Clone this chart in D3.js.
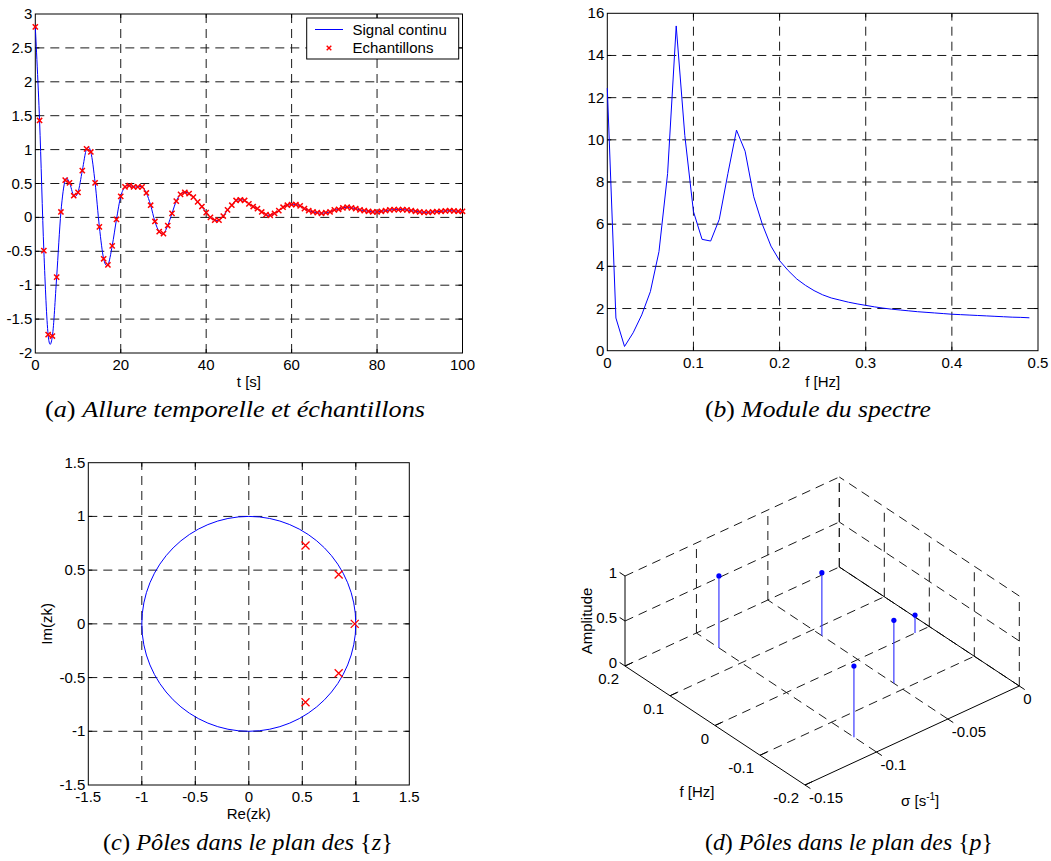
<!DOCTYPE html>
<html><head><meta charset="utf-8">
<script src="https://cdn.jsdelivr.net/npm/d3@7"></script>
<style>
body{margin:0;background:#fff}
svg text{font-family:"Liberation Sans",Arial,sans-serif;fill:#000}
.grid{stroke:#1a1a1a;stroke-width:1;stroke-dasharray:9 6;fill:none}
.axis{stroke:#000;stroke-width:1;fill:none}
svg text.cap{font-family:"Liberation Serif","Times New Roman",serif;font-size:23px}
</style>
</head><body>
<svg id="fig" width="1051" height="861"></svg>
<script>
// ---------- DATA ----------
// (a) sampled signal, t = 0..100 s (Ts = 1 s)
const sampleTimes = d3.range(0, 101);
const signalSamples = [
 2.81, 1.43, -0.49, -1.73, -1.75, -0.88, 0.08, 0.55, 0.51, 0.32,
 0.37, 0.69, 1.01, 0.965, 0.51, -0.14, -0.61, -0.70, -0.42, -0.03,
 0.31, 0.45, 0.47, 0.45, 0.45, 0.45, 0.36, 0.18, -0.06, -0.21,
 -0.24, -0.12, 0.06, 0.24, 0.34, 0.37, 0.35, 0.30, 0.23, 0.16,
 0.07, 0.00, -0.04, -0.04, 0.02, 0.11, 0.18, 0.25, 0.26, 0.25,
 0.20, 0.16, 0.13, 0.08, 0.04, 0.03, 0.06, 0.10, 0.15, 0.18,
 0.19, 0.19, 0.17, 0.13, 0.10, 0.08, 0.07, 0.06, 0.07, 0.08,
 0.11, 0.12, 0.14, 0.15, 0.14, 0.13, 0.11, 0.10, 0.09, 0.08,
 0.08, 0.09, 0.10, 0.11, 0.115, 0.115, 0.115, 0.11, 0.10, 0.09,
 0.08, 0.075, 0.075, 0.08, 0.085, 0.09, 0.095, 0.10, 0.095, 0.09, 0.09
];
const aXTicks = [0, 20, 40, 60, 80, 100];
const aYTicks = [-2, -1.5, -1, -0.5, 0, 0.5, 1, 1.5, 2, 2.5, 3];

// (b) spectrum module, f = 0 .. 0.49 Hz
const specFreq = d3.range(0, 50).map(i => i / 100);
const specModule = [
 12.45, 1.55, 0.2, 0.85, 1.7, 2.8, 4.7, 8.4, 15.4, 10.2,
 6.6, 5.28, 5.2, 6.23, 8.4, 10.46, 9.46, 7.3, 5.99, 4.96,
 4.27, 3.8, 3.4, 3.1, 2.85, 2.65, 2.5, 2.4, 2.3, 2.22,
 2.15, 2.08, 2.02, 1.97, 1.93, 1.89, 1.85, 1.82, 1.79, 1.76,
 1.73, 1.71, 1.69, 1.67, 1.65, 1.63, 1.61, 1.59, 1.58, 1.56
];
const bXTicks = [0, 0.1, 0.2, 0.3, 0.4, 0.5];
const bYTicks = [0, 2, 4, 6, 8, 10, 12, 14, 16];

// (c) poles in z-plane
const zPoleRe = [0.53, 0.84, 0.99, 0.84, 0.53];
const zPoleIm = [0.73, 0.46, 0.0, -0.46, -0.73];
const cTicks = [-1.5, -1, -0.5, 0, 0.5, 1, 1.5];

// (d) poles in p-plane
const pSigma = [-0.10, -0.05, -0.01, -0.05, -0.10];
const pFreq  = [0.15, 0.08, 0.0, -0.08, -0.15];
const pAmp   = [0.80, 0.70, 0.20, 0.70, 0.79];
const dSigmaTicks = [-0.15, -0.1, -0.05, 0];
const dFreqTicks = [-0.2, -0.1, 0, 0.1, 0.2];
const dAmpTicks = [0, 0.5, 1];

// ---------- DRAW ----------
const svg = d3.select('#fig');
const TICK = 4, FS = 15;

function frame(g, x, y, xt, yt) {
  const [xa, xb] = x.range(), [ya, yb] = y.range(); // ya bottom, yb top
  const xd = x.domain(), yd = y.domain();
  const ix = xt.filter(v => v !== xd[0] && v !== xd[1]);
  const iy = yt.filter(v => v !== yd[0] && v !== yd[1]);
  g.selectAll(null).data(ix).join('line').attr('class', 'grid')
    .attr('x1', d => x(d)).attr('x2', d => x(d)).attr('y1', ya).attr('y2', yb);
  g.selectAll(null).data(iy).join('line').attr('class', 'grid')
    .attr('y1', d => y(d)).attr('y2', d => y(d)).attr('x1', xa).attr('x2', xb);
  g.append('rect').attr('class', 'axis').attr('x', xa).attr('y', yb)
    .attr('width', xb - xa).attr('height', ya - yb);
  g.selectAll(null).data(ix).join('path').attr('class', 'axis')
    .attr('d', d => `M${x(d)},${ya}v${-TICK}M${x(d)},${yb}v${TICK}`);
  g.selectAll(null).data(iy).join('path').attr('class', 'axis')
    .attr('d', d => `M${xa},${y(d)}h${TICK}M${xb},${y(d)}h${-TICK}`);
  g.selectAll(null).data(xt).join('text')
    .attr('x', d => x(d)).attr('y', ya + 17).attr('text-anchor', 'middle')
    .style('font-size', FS + 'px').text(d => String(d));
  g.selectAll(null).data(yt).join('text')
    .attr('x', xa - 3).attr('y', d => y(d) + 5).attr('text-anchor', 'end')
    .style('font-size', FS + 'px').text(d => String(d));
}

function xMark(g, cx, cy, h, color, w) {
  g.append('path').attr('d', `M${cx - h},${cy - h}L${cx + h},${cy + h}M${cx - h},${cy + h}L${cx + h},${cy - h}`)
    .attr('stroke', color).attr('stroke-width', w).attr('fill', 'none');
}

// ---- (a) ----
{
  const g = svg.append('g');
  const x = d3.scaleLinear().domain([0, 100]).range([35.3, 462.5]);
  const y = d3.scaleLinear().domain([-2, 3]).range([353, 14]);
  frame(g, x, y, aXTicks, aYTicks);
  const line = d3.line().x((d, i) => x(sampleTimes[i])).y(d => y(d)).curve(d3.curveCatmullRom.alpha(0));
  g.append('path').attr('d', line(signalSamples)).attr('fill', 'none').attr('stroke', '#0000ff').attr('stroke-width', 1);
  signalSamples.forEach((v, i) => xMark(g, x(sampleTimes[i]), y(v), 2.6, '#ff0000', 1.5));
  g.append('text').attr('x', (x.range()[0] + x.range()[1]) / 2).attr('y', 387).attr('text-anchor', 'middle')
    .style('font-size', FS + 'px').text('t [s]');
  const lg = g.append('g');
  lg.append('rect').attr('x', 306.7).attr('y', 18).attr('width', 152).attr('height', 41)
    .attr('fill', '#fff').attr('stroke', '#000').attr('stroke-width', 1);
  lg.append('line').attr('x1', 315).attr('x2', 343).attr('y1', 29.5).attr('y2', 29.5).attr('stroke', '#0000ff');
  lg.append('text').attr('x', 352.5).attr('y', 35).style('font-size', FS + 'px').text('Signal continu');
  xMark(lg, 329, 48, 2.3, '#ff0000', 1.4);
  lg.append('text').attr('x', 352.5).attr('y', 53).style('font-size', FS + 'px').text('Echantillons');
}

// ---- (b) ----
{
  const g = svg.append('g');
  const x = d3.scaleLinear().domain([0, 0.5]).range([607.3, 1038]);
  const y = d3.scaleLinear().domain([0, 16]).range([350.7, 13.3]);
  frame(g, x, y, bXTicks, bYTicks);
  const line = d3.line().x((d, i) => x(specFreq[i])).y(d => y(d));
  g.append('path').attr('d', line(specModule)).attr('fill', 'none').attr('stroke', '#0000ff').attr('stroke-width', 1);
  g.append('text').attr('x', (x.range()[0] + x.range()[1]) / 2).attr('y', 387).attr('text-anchor', 'middle')
    .style('font-size', FS + 'px').text('f [Hz]');
}

// ---- (c) ----
{
  const g = svg.append('g');
  const x = d3.scaleLinear().domain([-1.5, 1.5]).range([88.3, 409.3]);
  const y = d3.scaleLinear().domain([-1.5, 1.5]).range([785, 462.7]);
  frame(g, x, y, cTicks, cTicks);
  g.append('ellipse').attr('cx', x(0)).attr('cy', y(0))
    .attr('rx', x(1) - x(0)).attr('ry', y(0) - y(1))
    .attr('fill', 'none').attr('stroke', '#0000ff').attr('stroke-width', 1);
  zPoleRe.forEach((re, i) => xMark(g, x(re), y(zPoleIm[i]), 4, '#ff0000', 1.3));
  g.append('text').attr('x', (x.range()[0] + x.range()[1]) / 2).attr('y', 819).attr('text-anchor', 'middle')
    .style('font-size', FS + 'px').text('Re(zk)');
  g.append('text').attr('transform', `translate(52,${y(0)}) rotate(-90)`).attr('text-anchor', 'middle')
    .style('font-size', FS + 'px').text('Im(zk)');
}

// ---- (d) 3-D stem ----
{
  const g = svg.append('g');
  const P0 = [805, 785], VS = [214.3, -99], VF = [-180, -119];
  const s3 = d3.scaleLinear().domain([-0.15, 0]).range([0, 1]);
  const f3 = d3.scaleLinear().domain([-0.2, 0.2]).range([0, 1]);
  const z3 = d3.scaleLinear().domain([0, 1]).range([0, 90]);
  const proj = (s, f, z) => {
    const a = s3(s), b = f3(f);
    return [P0[0] + a * VS[0] + b * VF[0], P0[1] + a * VS[1] + b * VF[1] - z3(z)];
  };
  const seg = (p, q) => `M${p[0]},${p[1]}L${q[0]},${q[1]}`;
  const sMin = -0.15, sMax = 0, fMin = -0.2, fMax = 0.2;
  const grid = [];
  dSigmaTicks.filter(s => s !== sMin).forEach(s => grid.push(seg(proj(s, fMin, 0), proj(s, fMax, 0))));
  dFreqTicks.filter(f => f !== fMin).forEach(f => grid.push(seg(proj(sMin, f, 0), proj(sMax, f, 0))));
  dSigmaTicks.filter(s => s !== sMin).forEach(s => grid.push(seg(proj(s, fMax, 0), proj(s, fMax, 1))));
  dAmpTicks.filter(z => z !== 0).forEach(z => grid.push(seg(proj(sMin, fMax, z), proj(sMax, fMax, z))));
  dFreqTicks.forEach(f => grid.push(seg(proj(sMax, f, 0), proj(sMax, f, 1))));
  dAmpTicks.filter(z => z !== 0).forEach(z => grid.push(seg(proj(sMax, fMin, z), proj(sMax, fMax, z))));
  g.selectAll(null).data(grid).join('path').attr('class', 'grid').attr('d', d => d);
  const ax = [
    seg(proj(sMin, fMax, 0), proj(sMin, fMin, 0)),
    seg(proj(sMin, fMin, 0), proj(sMax, fMin, 0)),
    seg(proj(sMax, fMin, 0), proj(sMax, fMax, 0)),
    seg(proj(sMin, fMax, 0), proj(sMin, fMax, 1))
  ];
  g.selectAll(null).data(ax).join('path').attr('class', 'axis').attr('d', d => d);
  const tk = [];
  dFreqTicks.forEach(f => tk.push(seg(proj(sMin, f, 0), proj(sMin + 0.005, f, 0))));
  dSigmaTicks.forEach(s => tk.push(seg(proj(s, fMin, 0), proj(s, fMin - 0.012, 0))));
  dAmpTicks.forEach(z => tk.push(seg(proj(sMin, fMax, z), proj(sMin, fMax + 0.012, z))));
  g.selectAll(null).data(tk).join('path').attr('class', 'axis').attr('d', d => d);
  dFreqTicks.forEach(f => {
    const p = proj(sMin, f, 0);
    g.append('text').attr('x', p[0] - 6).attr('y', p[1] + 18).attr('text-anchor', 'end')
      .style('font-size', FS + 'px').text(String(f));
  });
  dSigmaTicks.forEach(s => {
    const p = proj(s, fMin, 0);
    g.append('text').attr('x', p[0] + 4).attr('y', p[1] + 18).attr('text-anchor', 'start')
      .style('font-size', FS + 'px').text(String(s));
  });
  dAmpTicks.forEach(z => {
    const p = proj(sMin, fMax, z);
    g.append('text').attr('x', p[0] - 8).attr('y', p[1] + 2).attr('text-anchor', 'end')
      .style('font-size', FS + 'px').text(String(z));
  });
  const fm = proj(sMin, 0, 0);
  g.append('text').attr('x', fm[0] - 18).attr('y', fm[1] + 71).attr('text-anchor', 'middle')
    .style('font-size', FS + 'px').text('f [Hz]');
  const sm = proj(-0.075, fMin, 0);
  const st = g.append('text').attr('x', sm[0] + 8).attr('y', sm[1] + 70).attr('text-anchor', 'middle')
    .style('font-size', FS + 'px');
  st.append('tspan').text('σ [s');
  st.append('tspan').attr('dy', -6).style('font-size', '10px').text('-1');
  st.append('tspan').attr('dy', 6).text(']');
  const zm = proj(sMin, fMax, 0.5);
  g.append('text').attr('transform', `translate(${zm[0] - 33},${zm[1]}) rotate(-90)`).attr('text-anchor', 'middle')
    .style('font-size', FS + 'px').text('Amplitude');
  pSigma.forEach((s, i) => {
    const b = proj(s, pFreq[i], 0), t = proj(s, pFreq[i], pAmp[i]);
    g.append('path').attr('d', seg(b, t)).attr('stroke', '#3a3aff').attr('stroke-width', 1.2).attr('fill', 'none');
    g.append('circle').attr('cx', t[0]).attr('cy', t[1]).attr('r', 2.6).attr('fill', '#0000ff');
  });
}

// ---------- CAPTIONS ----------
function caption(cx, y, width, letter, body, sym) {
  const t = svg.append('text').attr('class', 'cap').attr('x', cx).attr('y', y).attr('text-anchor', 'middle')
    .attr('textLength', width).attr('lengthAdjust', 'spacingAndGlyphs');
  t.append('tspan').text('(');
  t.append('tspan').style('font-style', 'italic').text(letter);
  t.append('tspan').text(') ');
  t.append('tspan').style('font-style', 'italic').text(body);
  if (sym) {
    t.append('tspan').text('{');
    t.append('tspan').style('font-style', 'italic').text(sym);
    t.append('tspan').text('}');
  }
}
caption(235, 417, 380, 'a', 'Allure temporelle et échantillons');
caption(818, 417, 226, 'b', 'Module du spectre');
caption(248, 850, 290, 'c', 'Pôles dans le plan des ', 'z');
caption(849, 850, 288, 'd', 'Pôles dans le plan des ', 'p');
</script>
</body></html>
